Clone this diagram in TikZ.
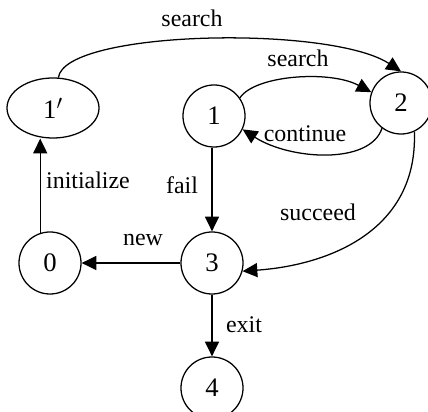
\documentclass[tikz,border=0pt]{standalone}
\usepackage{fontspec}
\setmainfont{Liberation Serif}
\usepackage{tikz}
\usetikzlibrary{positioning,arrows.meta,shapes}

\tikzset{
    state/.style={draw, circle, minimum size=1.55cm, inner sep=0pt, line width=0.9pt, font=\fontsize{19}{21}\selectfont},
    startstate/.style={draw, ellipse, minimum width=2.3cm, minimum height=1.5cm, inner sep=0pt, line width=0.9pt, font=\fontsize{19}{21}\selectfont},
    lbl/.style={inner sep=0pt, font=\fontsize{17}{19}\selectfont},
    trans/.style={line width=0.9pt, -{Triangle[length=10.5pt,width=10pt]}}
}

\begin{document}
\begin{tikzpicture}[x=0.025cm, y=-0.025cm]
            \useasboundingbox (0,0) rectangle (428,412);
            % states
            \node[startstate] (n1p) at (53,108) {1$'$};
            \node[state] (n1) at (214,116) {1};
            \node[state] (n2) at (401,103) {2};
            \node[state] (n0) at (50,263) {0};
            \node[state] (n3) at (212,263) {3};
            \node[state] (n4) at (212,388) {4};
            % transitions
            \draw[trans] (n1p.80) .. controls (65,30) and (330,25) .. (n2.north);
            \draw[trans] (n1.35) .. controls (255,75) and (330,70) .. (n2.160);
            \draw[trans] (n2.233) .. controls (370,165) and (290,160) .. (n1.-25);
            \draw[trans] (n2.-65) .. controls (418,230) and (330,265) .. (n3.-15);
            \draw[trans] (n3.north |- n1.south) -- (n3.north);
            \draw[trans] (n3.west) -- (n0.east);
            \draw[trans] (n0.108) -- (n0.108 |- n1p.south);
            \draw[trans] (n3.south) -- (n4.north);
            % labels
            \node[lbl] (lsearchtop) at (192,18) {search};
            \node[lbl] (lsearch) at (298,58) {search};
            \node[lbl] (lcontinue) at (305,134) {continue};
            \node[lbl] (lfail) at (182,185) {fail};
            \node[lbl] (linit) at (88,180) {initialize};
            \node[lbl] (lsucceed) at (318,212) {succeed};
            \node[lbl] (lnew) at (143,240) {new};
            \node[lbl] (lexit) at (244,325) {exit};
        \end{tikzpicture}
\end{document}
